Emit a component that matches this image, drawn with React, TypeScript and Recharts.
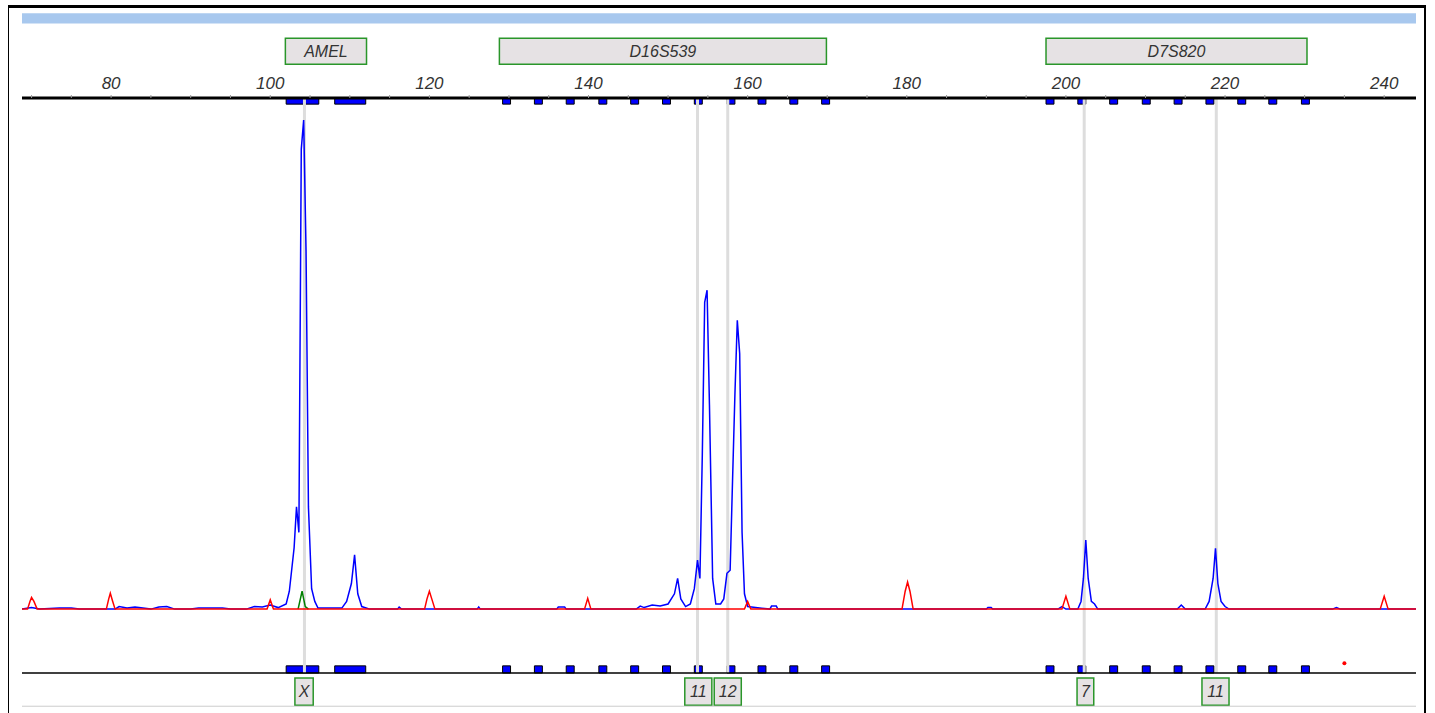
import { LineChart, Line, XAxis, YAxis, ReferenceArea, ReferenceLine, ReferenceDot } from 'recharts'

// size (bp) / RFU pairs
const bluePeaks = [
  [68.8, 0], [70, 3], [71, 0], [73.5, 2], [75, 2], [76, 0], [80.5, 0], [81, 5], [82, 2], [83, 4], [84, 2], [85, 0],
  [86, 4], [87, 5], [88, 0], [90, 0], [91, 2], [94, 2], [95, 0], [97, 0], [98, 5], [99, 4], [100, 8], [101, 3],
  [102, 10], [102.4, 35], [103.0, 120], [103.3, 200], [103.6, 150], [103.9, 900], [104.2, 957], [104.5, 700],
  [104.8, 200], [105.2, 40], [105.6, 15], [106, 2], [109, 2], [109.6, 15], [110.2, 50], [110.6, 106], [111, 30],
  [111.5, 5], [112.5, 0], [116, 0], [116.2, 4], [116.5, 0], [126, 0], [126.2, 4], [126.4, 0], [136, 0], [136.2, 4],
  [137, 4], [137.2, 0], [146, 0], [146.5, 6], [147, 3], [148, 8], [149, 6], [150, 10], [150.8, 30], [151.2, 60],
  [151.6, 20], [152.2, 5], [152.8, 10], [153.3, 40], [153.7, 96], [154.0, 60], [154.3, 300], [154.6, 600],
  [154.9, 624], [155.2, 400], [155.6, 60], [156, 10], [156.6, 10], [157, 20], [157.4, 70], [157.8, 76],
  [158.1, 250], [158.4, 420], [158.7, 565], [159.0, 500], [159.3, 150], [159.6, 30], [160, 5], [161, 3],
  [162.8, 0], [163, 6], [163.6, 6], [163.8, 0], [190, 0], [190.2, 3], [190.6, 3], [190.8, 0], [199, 0],
  [199.5, 5], [200, 0], [201.5, 0], [201.9, 15], [202.2, 60], [202.5, 135], [202.8, 60], [203.2, 15],
  [203.6, 10], [204, 0], [214, 0], [214.5, 8], [215, 0], [217.5, 0], [218, 15], [218.5, 60], [218.8, 119],
  [219.1, 50], [219.5, 15], [220, 5], [220.5, 0], [233.5, 0], [234, 3], [234.5, 0], [244, 0],
].map(([size, rfu]) => ({ size, rfu }))

const redPeaks = [
  [68.8, 0], [69.5, 0], [69.8, 15], [70, 23], [70.3, 15], [70.7, 0], [79.4, 0], [79.7, 20], [79.9, 31], [80.2, 15],
  [80.5, 0], [99.6, 0], [100, 18], [100.4, 0], [119.4, 0], [119.7, 20], [120, 35], [120.3, 20], [120.7, 0],
  [139.5, 0], [139.9, 21], [140.3, 0], [159.6, 0], [160, 15], [160.4, 0], [179.4, 0], [179.8, 35], [180.1, 53],
  [180.4, 35], [180.8, 0], [199.5, 0], [200, 25], [200.5, 0], [239.5, 0], [240, 25], [240.5, 0], [244, 0],
].map(([size, rfu]) => ({ size, rfu }))

const greenPeaks = [[103.5, 0], [104, 35], [104.4, 5], [104.8, 0]].map(([size, rfu]) => ({ size, rfu }))

const loci = [
  { name: 'AMEL', from: 101.9, to: 112.1 },
  { name: 'D16S539', from: 128.8, to: 169.9 },
  { name: 'D7S820', from: 197.5, to: 230.3 },
]

const wideBins = [[102.0, 106.1], [108.1, 112.0]]
const bins = [129.7, 133.7, 137.7, 141.8, 145.8, 149.8, 153.8, 157.9, 161.8, 165.8, 169.8,
  198.0, 202.0, 206.0, 210.1, 214.1, 218.1, 222.1, 226.0, 230.1]

const alleles = [
  { label: 'X', at: 104.3, from: 103.1, to: 105.4 },
  { label: '11', at: 153.7, from: 152.1, to: 155.5 },
  { label: '12', at: 157.5, from: 155.8, to: 159.2 },
  { label: '7', at: 202.3, from: 201.4, to: 203.5 },
  { label: '11', at: 218.9, from: 217.1, to: 220.5 },
]

const ticks: number[] = []
for (let t = 70; t <= 240; t += 5) ticks.push(t)

const labelStyle = { fontStyle: 'italic', fontSize: 16, fill: '#333', fontFamily: 'Arial, Liberation Sans' }

export default function App() {
  return (
    <div style={{ position: 'absolute', left: 0, top: 0, width: 1435, height: 713, background: '#fff' }}>
      <div style={{ position: 'absolute', left: 8, top: 5, width: 1418, height: 708, borderTop: '3px solid #000', borderLeft: '1px solid #000', borderRight: '2px solid #000', boxSizing: 'border-box' }} />
      <LineChart width={1435} height={713} margin={{ top: 68, right: 19, bottom: 40, left: 22 }}>
        <XAxis
          type="number"
          dataKey="size"
          orientation="top"
          height={30}
          domain={[68.8, 244]}
          ticks={ticks}
          interval={0}
          tickFormatter={(v: number) => (v % 20 === 0 ? String(v) : '')}
          tickSize={3}
          axisLine={{ stroke: '#000', strokeWidth: 3 }}
          tickLine={{ stroke: '#999' }}
          tick={{ ...labelStyle, fontSize: 17, dy: -4 }}
          allowDataOverflow
        />
        <YAxis hide type="number" domain={[-125, 1000]} allowDataOverflow />
        <ReferenceArea x1={68.8} x2={244} y1={1146} y2={1166} fill="#a8c8ee" fillOpacity={1} stroke="none" ifOverflow="visible" />
        {loci.map(l => (
          <ReferenceArea key={l.name} x1={l.from} x2={l.to} y1={1066} y2={1117} fill="#e6e2e4" fillOpacity={1}
            stroke="#2a962a" strokeWidth={1.5} ifOverflow="visible"
            label={{ value: l.name, position: 'center', ...labelStyle }} />
        ))}
        {alleles.map((a, i) => (
          <ReferenceLine key={'g' + i} x={a.at} stroke="#ddd" strokeWidth={3} />
        ))}
        {wideBins.map(([a, b], i) => (
          <ReferenceArea key={'w' + i} x1={a} x2={b} y1={988} y2={1000} fill="#0000ff" fillOpacity={1} stroke="#000" ifOverflow="visible" />
        ))}
        {bins.map((b, i) => (
          <ReferenceArea key={'b' + i} x1={b - 0.5} x2={b + 0.5} y1={988} y2={1000} fill="#0000ff" fillOpacity={1} stroke="#000" ifOverflow="visible" />
        ))}
        {wideBins.map(([a, b], i) => (
          <ReferenceArea key={'wb' + i} x1={a} x2={b} y1={-125} y2={-111} fill="#0000ff" fillOpacity={1} stroke="#000" ifOverflow="visible" />
        ))}
        {bins.map((b, i) => (
          <ReferenceArea key={'bb' + i} x1={b - 0.5} x2={b + 0.5} y1={-125} y2={-111} fill="#0000ff" fillOpacity={1} stroke="#000" ifOverflow="visible" />
        ))}
        <ReferenceLine y={-125} stroke="#000" strokeWidth={1.5} ifOverflow="visible" />
        <ReferenceLine y={-190} stroke="#ccc" strokeWidth={1} ifOverflow="visible" />
        {alleles.map((a, i) => (
          <ReferenceArea key={'a' + i} x1={a.from} x2={a.to} y1={-188} y2={-135} fill="#e6e2e4" fillOpacity={1}
            stroke="#2a962a" strokeWidth={1.5} ifOverflow="visible"
            label={{ value: a.label, position: 'center', ...labelStyle }} />
        ))}
        <ReferenceDot x={235} y={-106} r={2} fill="#ff0000" stroke="none" />
        <Line data={greenPeaks} dataKey="rfu" type="linear" stroke="#008000" strokeWidth={1.5} dot={false} isAnimationActive={false} />
        <Line data={bluePeaks} dataKey="rfu" type="linear" stroke="#0000ff" strokeWidth={1.5} dot={false} isAnimationActive={false} />
        <Line data={redPeaks} dataKey="rfu" type="linear" stroke="#ff0000" strokeWidth={1.5} dot={false} isAnimationActive={false} />
      </LineChart>
    </div>
  )
}
